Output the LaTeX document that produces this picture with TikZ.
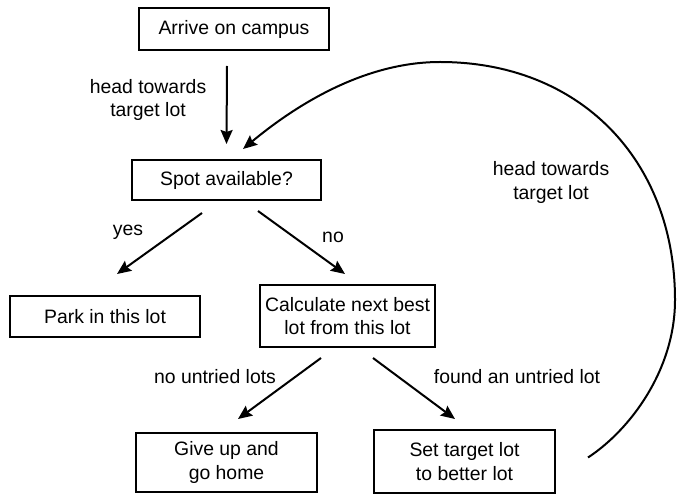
\documentclass[tikz,border=0pt]{standalone}
\usepackage{fontspec}
\setmainfont{Liberation Sans}
\usetikzlibrary{arrows.meta,calc}
\begin{document}
\begin{tikzpicture}[x=1pt,y=-1pt,
  every node/.style={font=\fontsize{19.4}{23.5}\selectfont},
  box/.style={draw,line width=2pt,align=center,inner sep=0pt},
  lbl/.style={align=center,inner sep=0pt},
  arr/.style={line width=2pt,-{Stealth[length=14pt,width=12pt,inset=2pt]}}]
\useasboundingbox (0,0) rectangle (677,494);
\node[box,minimum width=190pt,minimum height=42pt] (arrive) at (234,29) {Arrive on campus};
\node[box,minimum width=189pt,minimum height=40pt] (spot) at (226.5,180) {Spot available?};
\node[box,minimum width=190pt,minimum height=41pt] (park) at (105,316.5) {Park in this lot};
\node[box,minimum width=175pt,minimum height=62pt] (calc) at (347.5,316) {Calculate next best\\lot from this lot};
\node[box,minimum width=181pt,minimum height=59pt] (giveup) at (226.5,462.5) {Give up and\\go home};
\node[box,minimum width=181pt,minimum height=63pt] (settgt) at (464.5,461.5) {Set target lot\\to better lot};

\node[lbl] (l1) at (148,100) {head towards\\target lot};
\node[lbl] (l2) at (551,182.5) {head towards\\target lot};
\node[lbl] (lyes) at (128,232) {yes};
\node[lbl] (lno) at (333,237) {no};
\node[lbl] (lnone) at (215,377) {no untried lots};
\node[lbl] (lfound) at (517,377) {found an untried lot};

\draw[arr] ([xshift=-7pt,yshift=-15pt]arrive.south) -- ([yshift=15pt]spot.north);
\draw[arr] ([xshift=-24.5pt,yshift=-12pt]spot.south) -- ([xshift=12pt,yshift=21pt]park.north);
\draw[arr] ([xshift=31.5pt,yshift=-10pt]spot.south) -- ([xshift=-2.5pt,yshift=10pt]calc.north);
\draw[arr] ([xshift=-26.5pt,yshift=-10pt]calc.south) -- ([xshift=11.5pt,yshift=13pt]giveup.north);
\draw[arr] ([xshift=25.5pt,yshift=-10pt]calc.south) -- ([xshift=-9.5pt,yshift=10pt]settgt.north);

\coordinate (cstart) at ([xshift=32pt,yshift=4pt]settgt.east);
\coordinate (cend) at ([xshift=16.5pt,yshift=10pt]spot.north);
\draw[arr] (cstart) .. controls (630,430) and (675,370) .. (675,300)
  .. controls (675,160) and (580,62) .. (440,62)
  .. controls (360,62) and (290,110) .. (cend);
\end{tikzpicture}
\end{document}
